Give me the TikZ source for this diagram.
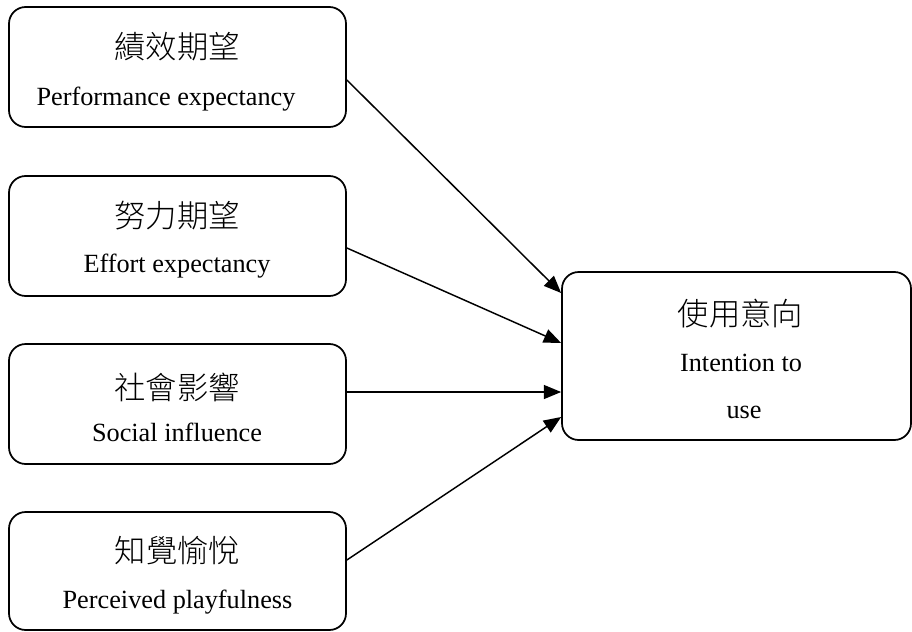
\documentclass[tikz,border=0pt]{standalone}
\usepackage{fontspec}
\setmainfont{Liberation Serif}
\newfontfamily\cjk{Noto Sans CJK TC}[UprightFont={* Light}]
\usetikzlibrary{arrows.meta}
\begin{document}
\begin{tikzpicture}[x=0.75pt,y=-0.75pt,
  box/.style={draw,line width=1.3pt,rounded corners=12.5pt,inner sep=0pt},
  zh/.style={font=\cjk\fontsize{23.5}{26}\selectfont,inner sep=0pt},
  en/.style={font=\fontsize{19.7}{22}\selectfont,inner sep=0pt,anchor=base},
  link/.style={line width=1.1pt,-{Triangle[length=13pt,width=10.5pt]}}]
\useasboundingbox (0,0) rectangle (912,631);
% factor boxes on the left
\node[box,minimum width=337*0.75pt,minimum height=120*0.75pt] (b1) at (177.5,67) {};
\node[box,minimum width=337*0.75pt,minimum height=120*0.75pt] (b2) at (177.5,236) {};
\node[box,minimum width=337*0.75pt,minimum height=120*0.75pt] (b3) at (177.5,404) {};
\node[box,minimum width=337*0.75pt,minimum height=118*0.75pt] (b4) at (177.5,571) {};
% outcome box on the right
\node[box,minimum width=349*0.75pt,minimum height=168*0.75pt] (b5) at (736.5,356) {};
% labels
\node[zh] (t1a) at (177,47) {績效期望};
\node[en] (t1b) at (166,106) {Performance expectancy};
\node[zh] (t2a) at (177,216) {努力期望};
\node[en] (t2b) at (177,272) {Effort expectancy};
\node[zh] (t3a) at (177,387) {社會影響};
\node[en] (t3b) at (177,441) {Social influence};
\node[zh] (t4a) at (177.5,551) {知覺愉悅};
\node[en] (t4b) at (177.5,608) {Perceived playfulness};
\node[zh] (t5a) at (740.5,314) {使用意向};
\node[en] (t5b) at (741,371) {Intention to};
\node[en] (t5c) at (744,418) {use};
% paths into the outcome
\draw[link] ([yshift=-9.75pt]b1.east) -- ([yshift=47.25pt]b5.west);
\draw[link] ([yshift=-9pt]b2.east) -- ([yshift=9.75pt]b5.west);
\draw[link] ([yshift=9pt]b3.east) -- ([yshift=-27pt]b5.west);
\draw[link] ([yshift=8.25pt]b4.east) -- ([yshift=-45.75pt]b5.west);
\end{tikzpicture}
\end{document}
